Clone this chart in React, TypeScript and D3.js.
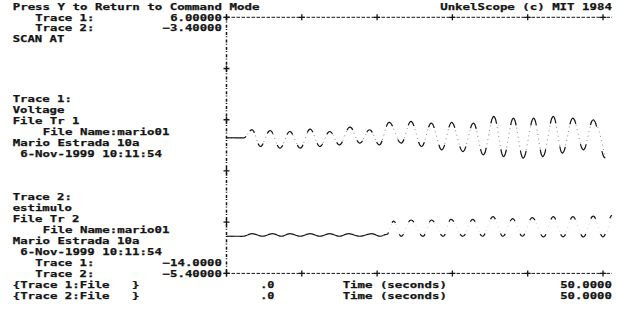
import React, { useEffect, useRef } from 'react';
import * as d3 from 'd3';

const W = 627;
const H = 321;

// time axis (seconds) and the two vertical ranges printed at the left
const xTicks = [0, 10, 20, 30, 40, 50];
const trace1Range = [-14, 6];
const trace2Range = [-5.4, -3.4];
const trace1Ticks = [-14, -10, -6, -2, 2, 6];
const xTitle = 'Time (seconds)';

// Trace 1: Voltage (peaks and troughs)
const trace1Time = [0, 2.3, 3.4, 4.5, 5.8, 7.1, 8.4, 9.8, 11.1, 12.4, 13.7, 15.0, 16.4, 17.7, 19.0, 20.3, 21.6, 23.2, 24.5, 25.9, 27.2, 28.6, 29.9, 31.4, 32.8, 34.1, 35.5, 36.8, 38.1, 39.4, 40.8, 42.0, 43.4, 44.6, 46.0, 47.4, 48.7, 50.3];
const trace1Volts = [-3.41, -3.41, -2.78, -4.09, -2.84, -4.22, -2.92, -4.22, -2.73, -4.09, -2.92, -3.96, -2.57, -3.83, -2.78, -3.96, -2.21, -3.83, -2.13, -4.09, -2.26, -4.35, -2.21, -4.49, -2.26, -4.75, -1.74, -4.88, -1.87, -5.0, -1.87, -4.88, -1.74, -4.61, -1.87, -4.35, -2.0, -5.0];

// Trace 2: estimulo
const trace2Time = [0, 2.2, 3.4, 4.8, 6.1, 7.3, 8.4, 9.8, 11.1, 12.4, 13.7, 15.0, 16.2, 17.7, 19.3, 20.4, 21.3, 22.2, 23.2, 24.5, 26.1, 27.2, 28.8, 29.8, 31.4, 32.7, 34.0, 35.4, 36.7, 38.0, 39.3, 40.6, 42.1, 43.4, 44.7, 46.0, 47.4, 48.7, 50.0, 51.2];
const trace2Volts = [-5.11, -5.11, -5.09, -5.11, -5.09, -5.11, -5.09, -5.11, -5.09, -5.11, -5.09, -5.11, -5.09, -5.11, -5.09, -5.11, -5.095, -4.991, -5.11, -4.983, -5.11, -4.983, -5.11, -4.978, -5.11, -4.978, -5.11, -4.957, -5.11, -4.973, -5.11, -4.965, -5.115, -4.957, -5.115, -4.957, -5.115, -4.952, -5.115, -4.947];

// screen text: [row, column, text]
const screenText: [number, number, string][] = [
  [0, 0, 'Press Y to Return to Command Mode'],
  [0, 57, 'UnkelScope (c) MIT 1984'],
  [1, 3, 'Trace 1:'],
  [2, 3, 'Trace 2:'],
  [3, 0, 'SCAN AT'],
  [8, 0, 'Trace 1:'],
  [9, 0, 'Voltage'],
  [10, 0, 'File Tr 1'],
  [11, 4, 'File Name:mario01'],
  [12, 0, 'Mario Estrada 10a'],
  [13, 1, '6-Nov-1999 10:11:54'],
  [17, 0, 'Trace 2:'],
  [18, 0, 'estimulo'],
  [19, 0, 'File Tr 2'],
  [20, 4, 'File Name:mario01'],
  [21, 0, 'Mario Estrada 10a'],
  [22, 1, '6-Nov-1999 10:11:54'],
  [23, 3, 'Trace 1:'],
  [24, 3, 'Trace 2:'],
  [25, 0, '{Trace 1:File   }'],
  [26, 0, '{Trace 2:File   }'],
];

const cw = 7.5;
const col0 = 12.7;
const fontSize = 9.3;
const rowY = (r: number) => (r <= 3 ? 6.5 + r * 10.8 : 11.8 + r * 10.9);
const fmt = (v: number) => (v === 0 ? '.0' : d3.format('.6r')(v));

const App = () => {
  const svgRef = useRef<SVGSVGElement>(null);

  useEffect(() => {
    const svg = d3.select(svgRef.current);
    svg.selectAll('*').remove();
    const ink = '#151515';

    const top = rowY(1);
    const bottom = rowY(24);
    const x = d3.scaleLinear().domain([0, 50]).range([226.5, 603]);
    const y1 = d3.scaleLinear().domain(trace1Range).range([bottom, top]);
    const y2 = d3.scaleLinear().domain(trace2Range).range([bottom, top]);

    // frame: dashed top & bottom, dotted left
    const axisEnd = x(50) + 9;
    [top, bottom].forEach((yy) => {
      svg.append('line')
        .attr('x1', x(0)).attr('x2', axisEnd)
        .attr('y1', yy).attr('y2', yy)
        .attr('stroke', ink).attr('stroke-width', 1)
        .attr('stroke-dasharray', '3.5 1.5');
    });
    svg.append('line')
      .attr('x1', x(0)).attr('x2', x(0))
      .attr('y1', top).attr('y2', bottom)
      .attr('stroke', ink).attr('stroke-width', 1.5)
      .attr('stroke-dasharray', '3 1.2 1 2.2');

    const cross = (cx: number, cy: number) => {
      svg.append('path')
        .attr('d', `M${cx - 3},${cy}H${cx + 3}M${cx},${cy - 3}V${cy + 3}`)
        .attr('stroke', ink).attr('stroke-width', 1.3);
    };
    xTicks.forEach((t) => { cross(x(t), top); cross(x(t), bottom); });
    trace1Ticks.forEach((v) => cross(x(0), y1(v)));

    // traces: faint sampled line + solid fragments around each extreme
    const drawTrace = (times: number[], volts: number[], y: d3.ScaleLinear<number, number>, faint: number, reach: number) => {
      const pts: [number, number][] = times.map((t, i) => [x(t), y(volts[i])]);
      svg.append('path')
        .attr('d', d3.line().curve(d3.curveMonotoneX)(pts))
        .attr('fill', 'none').attr('stroke', ink)
        .attr('stroke-opacity', faint).attr('stroke-width', 1)
        .attr('stroke-dasharray', '1 3.5');

      const piece = d3.line().curve(d3.curveCatmullRom);
      pts.forEach((p, i) => {
        const side = (n: [number, number] | undefined) => {
          if (!n) return [] as [number, number][];
          const f = Math.abs(n[1] - p[1]) < 6 ? 0.5 : reach;
          return [f, f / 2].map((k) => [
            p[0] + k * (n[0] - p[0]),
            p[1] + ((1 - Math.cos(Math.PI * k)) / 2) * (n[1] - p[1]),
          ] as [number, number]);
        };
        const seg = [...side(pts[i - 1]), p, ...side(pts[i + 1]).reverse()];
        svg.append('path')
          .attr('d', piece(seg))
          .attr('fill', 'none').attr('stroke', ink)
          .attr('stroke-width', 1.2);
      });
    };
    drawTrace(trace1Time, trace1Volts, y1, 0.5, 0.28);
    drawTrace(trace2Time, trace2Volts, y2, 0.2, 0.24);

    // text
    const lines: [number, number, string][] = [
      ...screenText,
      [1, 28 - fmt(trace1Range[1]).length, fmt(trace1Range[1])],
      [2, 28 - fmt(trace2Range[1]).length, fmt(trace2Range[1])],
      [23, 28 - fmt(trace1Range[0]).length, fmt(trace1Range[0])],
      [24, 28 - fmt(trace2Range[0]).length, fmt(trace2Range[0])],
    ];
    [25, 26].forEach((r) => {
      lines.push([r, 33, fmt(xTicks[0])]);
      lines.push([r, 44, xTitle]);
      const last = fmt(xTicks[xTicks.length - 1]);
      lines.push([r, 80 - last.length, last]);
    });

    svg.append('g')
      .selectAll('text')
      .data(lines)
      .enter()
      .append('text')
      .attr('x', (d) => col0 + d[1] * cw)
      .attr('y', (d) => rowY(d[0]) + fontSize * 0.365)
      .attr('textLength', (d) => d[2].length * cw - 0.8)
      .attr('lengthAdjust', 'spacingAndGlyphs')
      .attr('fill', ink)
      .attr('stroke', ink)
      .attr('stroke-width', 0.25)
      .style('white-space', 'pre')
      .style('font-family', "'DejaVu Sans Mono', monospace")
      .style('font-weight', 'bold')
      .style('font-size', `${fontSize}px`)
      .text((d) => d[2]);
  }, []);

  return (
    <svg
      ref={svgRef}
      width={W}
      height={H}
      style={{ position: 'absolute', left: 0, top: 0, background: '#fff' }}
    />
  );
};

export default App;
